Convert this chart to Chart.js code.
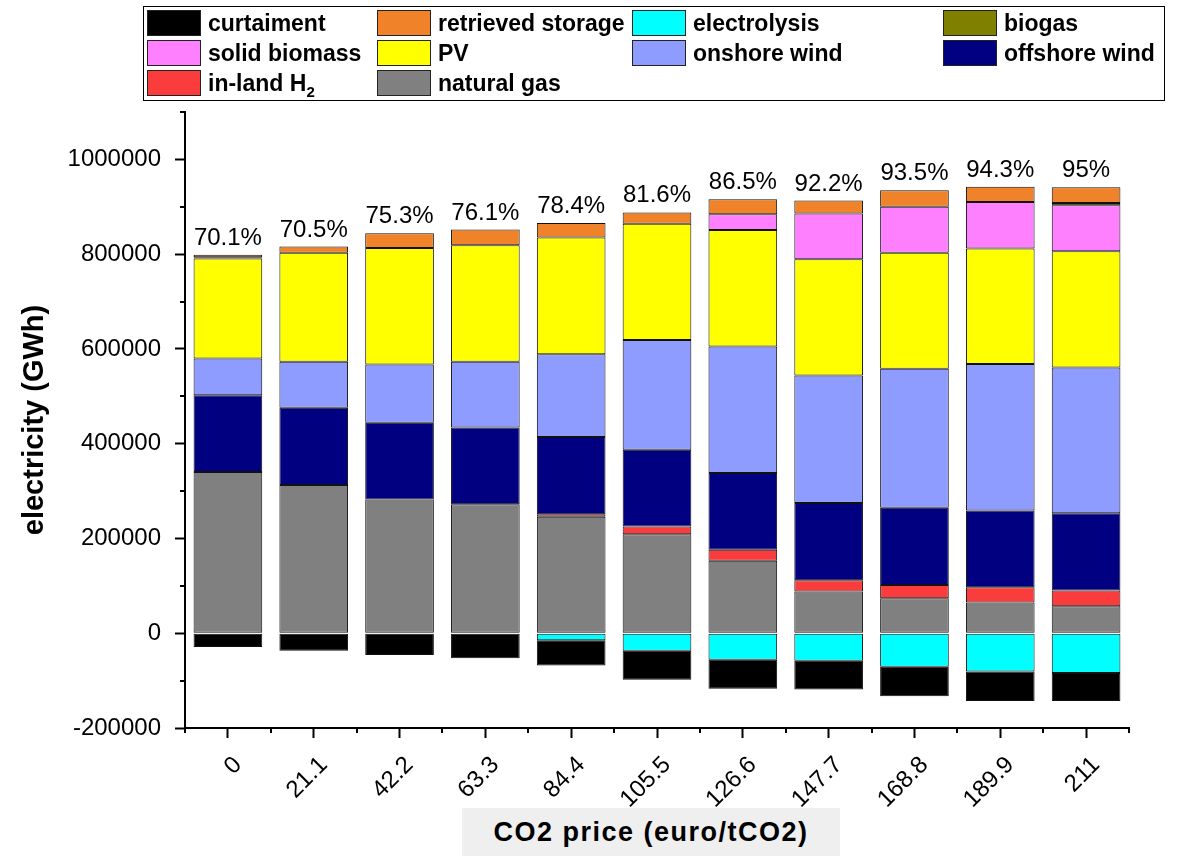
<!DOCTYPE html>
<html>
<head>
<meta charset="utf-8">
<script src="https://cdn.jsdelivr.net/npm/chart.js@4.4.0/dist/chart.umd.min.js"></script>
<style>
  body { margin: 0; background: #fff; font-family: "Liberation Sans", Arial, sans-serif; }
  #wrap { position: relative; width: 1185px; height: 868px; }
  #legend { position: absolute; left: 143px; top: 6px; width: 1022px; height: 95px; border: 1px solid #000; box-sizing: border-box; }
  .item { position: absolute; height: 26px; display: flex; align-items: center; font-weight: bold; font-size: 23px; white-space: nowrap; color: #000; }
  .item sub { font-size: 15px; vertical-align: -6px; line-height: 0; }
  .sw { width: 54px; height: 26px; border: 1px solid #222; box-sizing: border-box; margin-right: 7px; flex: none; }
  #xtitle { position: absolute; left: 462px; top: 808px; width: 378px; height: 48px; background: #efefef; font-weight: bold; font-size: 27px; letter-spacing: 1.5px; text-align: center; line-height: 48px; color: #000; }
</style>
</head>
<body>
<div id="wrap">
  <canvas id="energyChart" width="1185" height="868"></canvas>
  <div id="legend"></div>
  <div id="xtitle">CO2 price (euro/tCO2)</div>
</div>
<script>
// CO2 price scenarios (euro/tCO2)
const categories = ['0', '21.1', '42.2', '63.3', '84.4', '105.5', '126.6', '147.7', '168.8', '189.9', '211'];
// renewable share printed above each bar
const renewableShare = ['70.1%', '70.5%', '75.3%', '76.1%', '78.4%', '81.6%', '86.5%', '92.2%', '93.5%', '94.3%', '95%'];
// labelled y ticks
const yTickValues = [-200000, 0, 200000, 400000, 600000, 800000, 1000000];

// electricity by source (GWh)
const naturalGas       = [340000, 313000, 282000, 272000, 246000, 209000, 153000, 88000, 74000, 65000, 57000];
const inlandH2         = [0, 0, 0, 0, 5000, 16000, 23000, 24000, 28000, 32000, 33000];
const offshoreWind     = [162000, 163000, 162000, 162000, 163000, 162000, 162000, 163000, 163000, 162000, 163000];
const onshoreWind      = [78000, 97000, 123000, 139000, 175000, 232000, 267000, 269000, 293000, 309000, 308000];
const pv               = [211000, 230000, 246000, 246000, 246000, 245000, 246000, 245000, 245000, 244000, 245000];
const solidBiomass     = [0, 0, 0, 0, 0, 0, 33000, 97000, 97000, 98000, 97000];
const biogas           = [2500, 0, 0, 0, 0, 0, 0, 0, 0, 0, 5000];
const retrievedStorage = [5500, 13000, 31000, 33000, 31000, 24000, 32000, 27000, 35000, 32000, 33000];
// consumption shown below zero
const electrolysis     = [0, 0, 0, 0, -15000, -37000, -56000, -58000, -71000, -81000, -84000];
const curtailment      = [-29000, -37000, -46000, -53000, -53000, -61000, -61000, -61000, -62000, -62000, -59000];

// stacking order, bottom to top
const series = [
  { label: 'natural gas', data: naturalGas, color: '#808080' },
  { label: 'in-land H2', data: inlandH2, color: '#fa3c3c' },
  { label: 'offshore wind', data: offshoreWind, color: '#000080' },
  { label: 'onshore wind', data: onshoreWind, color: '#8e9bff' },
  { label: 'PV', data: pv, color: '#ffff00' },
  { label: 'solid biomass', data: solidBiomass, color: '#ff80ff' },
  { label: 'biogas', data: biogas, color: '#808000' },
  { label: 'retrieved storage', data: retrievedStorage, color: '#f0832a' },
  { label: 'electrolysis', data: electrolysis, color: '#00ffff' },
  { label: 'curtaiment', data: curtailment, color: '#000000' }
];

// legend rows as laid out in the box
const legendRows = [
  ['curtaiment', 'retrieved storage', 'electrolysis', 'biogas'],
  ['solid biomass', 'PV', 'onshore wind', 'offshore wind'],
  ['in-land H2', 'natural gas']
];
const legendCols = [3, 233, 488, 799];

const legendEl = document.getElementById('legend');
legendRows.forEach((row, r) => {
  row.forEach((name, c) => {
    const s = series.find(d => d.label === name);
    const item = document.createElement('div');
    item.className = 'item';
    item.style.left = legendCols[c] + 'px';
    item.style.top = (3 + r * 30) + 'px';
    const sw = document.createElement('span');
    sw.className = 'sw';
    sw.style.background = s.color;
    const txt = document.createElement('span');
    txt.innerHTML = name.replace(/H2$/, 'H<sub>2</sub>');
    item.appendChild(sw);
    item.appendChild(txt);
    legendEl.appendChild(item);
  });
});

// percent labels on top of the positive stack
const shareLabels = {
  id: 'shareLabels',
  afterDatasetsDraw(chart) {
    const { ctx, scales: { y } } = chart;
    const meta = chart.getDatasetMeta(0);
    ctx.save();
    ctx.font = '24px "Liberation Sans", Arial, sans-serif';
    ctx.fillStyle = '#000';
    ctx.textAlign = 'center';
    ctx.textBaseline = 'alphabetic';
    categories.forEach((c, i) => {
      let top = 0;
      chart.data.datasets.forEach(ds => { if (ds.data[i] > 0) top += ds.data[i]; });
      ctx.fillText(renewableShare[i], meta.data[i].x, y.getPixelForValue(top) - 10);
    });
    ctx.restore();
  }
};

// short minor ticks between the labelled ones
const minorTicks = {
  id: 'minorTicks',
  afterDraw(chart) {
    const { ctx, scales: { x, y }, chartArea: a } = chart;
    ctx.save();
    ctx.strokeStyle = '#000';
    ctx.lineWidth = 2;
    ctx.beginPath();
    for (let v = y.min + 100000; v <= y.max; v += 200000) {
      const py = Math.round(y.getPixelForValue(v));
      ctx.moveTo(a.left - 5, py);
      ctx.lineTo(a.left, py);
    }
    for (let i = 0; i <= categories.length; i++) {
      const px = Math.round(x.getPixelForValue(i - 0.5));
      ctx.moveTo(px, a.bottom);
      ctx.lineTo(px, a.bottom + 5);
    }
    ctx.stroke();
    ctx.restore();
  }
};

Chart.defaults.font.family = '"Liberation Sans", Arial, sans-serif';
Chart.defaults.color = '#000';

let ctx = document.getElementById('energyChart').getContext('2d');
var energyChart = new Chart(ctx, {
  type: 'bar',
  data: {
    labels: categories,
    datasets: series.map(s => ({
      label: s.label,
      data: s.data,
      backgroundColor: s.color,
      borderColor: '#111',
      borderWidth: 1,
      borderSkipped: false,
      stack: 'total',
      categoryPercentage: 1,
      barPercentage: 0.8
    }))
  },
  options: {
    responsive: false,
    animation: false,
    layout: { padding: { top: 112, right: 56, left: 0, bottom: 0 } },
    plugins: {
      legend: { display: false },
      tooltip: { enabled: false }
    },
    scales: {
      x: {
        stacked: true,
        offset: true,
        grid: { drawOnChartArea: false, offset: false, tickLength: 10, tickWidth: 2, tickColor: '#000' },
        border: { color: '#000', width: 2 },
        ticks: { font: { size: 24 }, color: '#000', minRotation: 45, maxRotation: 45, padding: 13, labelOffset: 10 },
        afterFit(s) { s.height = 140; s.paddingLeft = 0; s.paddingRight = 0; }
      },
      y: {
        stacked: true,
        min: -200000,
        max: 1100000,
        grid: { drawOnChartArea: false, tickLength: 10, tickWidth: 2, tickColor: '#000' },
        border: { color: '#000', width: 2 },
        ticks: { font: { size: 24 }, color: '#000', padding: 14, callback: v => v },
        afterBuildTicks(s) { s.ticks = yTickValues.map(v => ({ value: v })); },
        title: { display: true, text: 'electricity (GWh)', font: { size: 29, weight: 'bold' }, padding: { top: 18 } },
        afterFit(s) { s.width = 185; s.paddingTop = 0; s.paddingBottom = 0; }
      }
    }
  },
  plugins: [shareLabels, minorTicks]
});
</script>
</body>
</html>
